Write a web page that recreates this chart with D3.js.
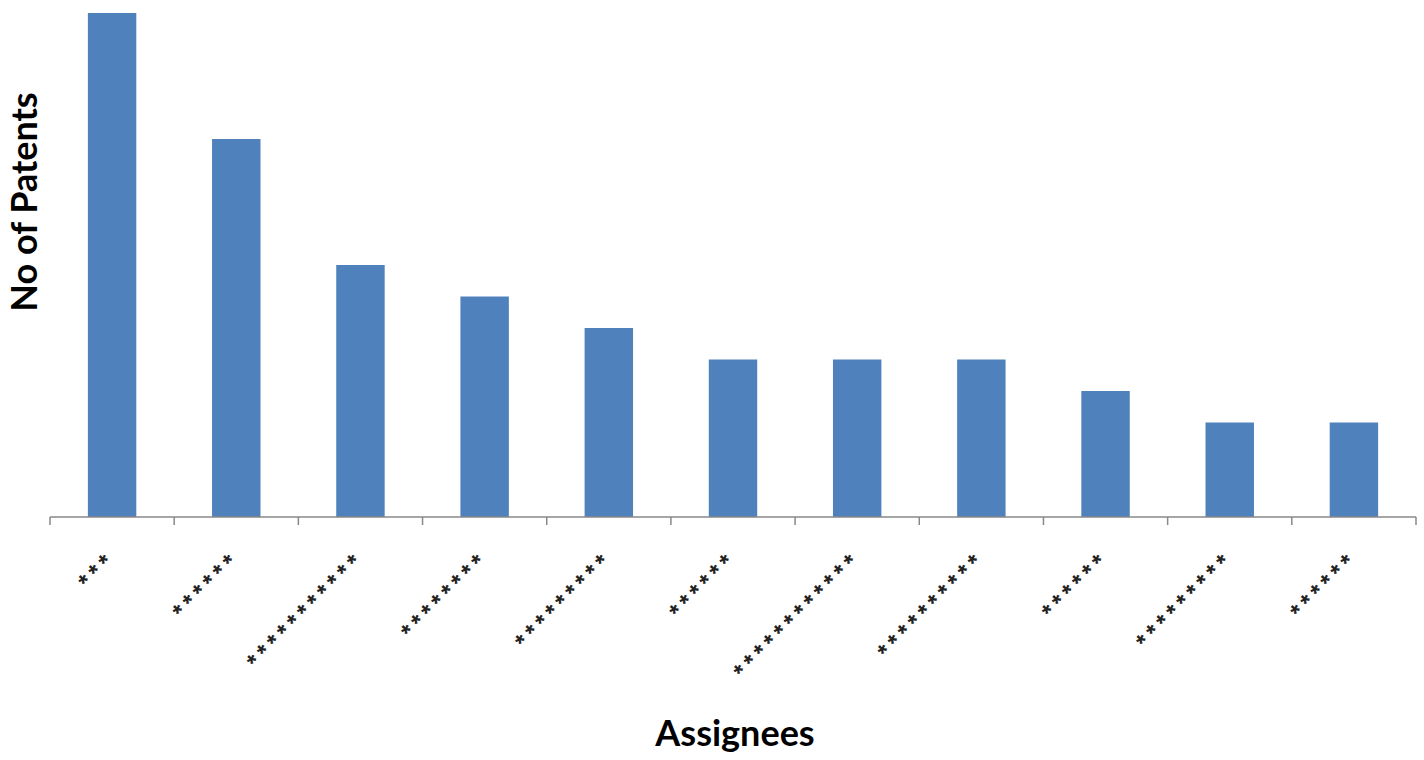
<!DOCTYPE html>
<html>
<head>
<meta charset="utf-8">
<script src="https://cdnjs.cloudflare.com/ajax/libs/d3/7.8.5/d3.min.js"></script>
<style>
  body { margin: 0; background: #fff; }
  .axis-label { font-family: Lato, "Open Sans", sans-serif; font-weight: bold; fill: #000; }
</style>
</head>
<body>
<div id="chart"></div>
<script>
// data
var assignees = ["***", "******", "***********", "********", "*********", "******",
                 "************", "**********", "******", "*********", "******"];
var patents = [16, 12, 8, 7, 6, 5, 5, 5, 4, 3, 3];
var xLabel = "Assignees";
var yLabel = "No of Patents";

var svgWidth = 1424;
var svgHeight = 760;

var margin = { top: 13, right: 8, bottom: 243, left: 50 };
var width = svgWidth - margin.left - margin.right;
var height = svgHeight - margin.top - margin.bottom;

var svg = d3.select("#chart")
    .append("svg")
    .attr("width", svgWidth)
    .attr("height", svgHeight)
    .append("g")
    .attr("transform", `translate(${margin.left}, ${margin.top})`);

var x = d3.scaleBand()
    .domain(assignees.map((d, i) => i))
    .range([0, width])
    .paddingInner(0.61)
    .paddingOuter(0.305);

var y = d3.scaleLinear()
    .domain([0, 16])
    .range([height, 0]);

// bars
svg.selectAll(".bar")
    .data(patents)
    .enter()
    .append("rect")
    .attr("class", "bar")
    .attr("x", (d, i) => x(i))
    .attr("y", d => y(d))
    .attr("width", x.bandwidth())
    .attr("height", d => height - y(d))
    .attr("fill", "#4F81BD");

// x axis: line with ticks between categories
var axisG = svg.append("g").attr("transform", `translate(0, ${height})`);
axisG.append("line")
    .attr("x1", 0).attr("x2", width)
    .attr("stroke", "#888").attr("stroke-width", 1.5);

var gap = (x.step() - x.bandwidth()) / 2;
var bounds = assignees.map((d, i) => x(i) - gap).concat([width]);
axisG.selectAll(".tick-mark")
    .data(bounds)
    .enter()
    .append("line")
    .attr("x1", d => d).attr("x2", d => d)
    .attr("y1", 0).attr("y2", 8)
    .attr("stroke", "#888").attr("stroke-width", 1.5);

// rotated category labels
axisG.selectAll(".cat")
    .data(assignees)
    .enter()
    .append("text")
    .attr("class", "cat")
    .attr("transform", (d, i) => `translate(${x(i) + x.bandwidth() / 2 + 6}, 44) rotate(-45)`)
    .attr("text-anchor", "end")
    .attr("font-family", "'Liberation Sans', Arial, sans-serif")
    .attr("font-size", "24px")
    .attr("font-weight", "bold")
    .attr("letter-spacing", "4.8px")
    .attr("fill", "#222")
    .text(d => d);

// axis titles
svg.append("text")
    .attr("class", "axis-label")
    .attr("x", width / 2 + 2)
    .attr("y", height + 229)
    .attr("text-anchor", "middle")
    .attr("font-size", "36px")
    .text(xLabel);

svg.append("text")
    .attr("class", "axis-label")
    .attr("transform", "rotate(-90)")
    .attr("x", -189)
    .attr("y", -13)
    .attr("text-anchor", "middle")
    .attr("font-size", "36px")
    .text(yLabel);
</script>
</body>
</html>
